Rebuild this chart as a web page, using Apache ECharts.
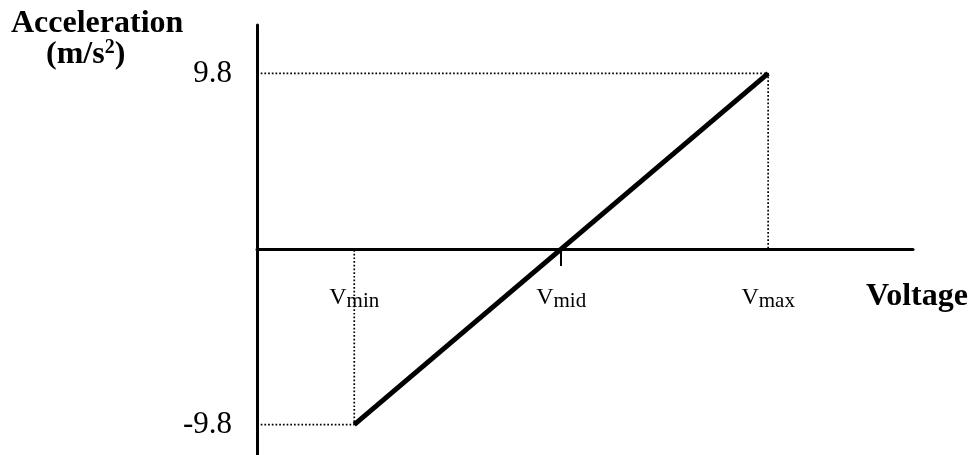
<!DOCTYPE html>
<html>
	<head>
		<meta charset="utf-8">
		<title>Acceleration vs Voltage</title>
		<script src="https://cdn.jsdelivr.net/npm/echarts@6/dist/echarts.min.js"></script>
		<style>
			html, body { margin: 0; padding: 0; background: #fff; }
		</style>
	</head>
	<body>
		<div id="box" style="width: 975px;height: 455px;"></div>
		<script>
			// voltage positions (abstract units): vmin, vmid, vmax
			var voltageTicks = [-1, 0, 1]
			var voltageSubs = ['min', 'mid', 'max']
			// acceleration limits (m/s^2)
			var accelTicks = [9.8, -9.8]
			// the transfer line
			var lineData = [[-1, -9.8], [1, 9.8]]
			// visible axis ranges
			var xRange = [-1.47, 1.70]
			var yRange = [-11.5, 12.5]

			var mCharts = echarts.init(document.querySelector('#box'))

			// dotted guides from the y axis to the line ends, then down/up to the x axis
			var guideTop = [[xRange[0], accelTicks[0]], [voltageTicks[2], accelTicks[0]], [voltageTicks[2], 0]]
			var guideBottom = [[xRange[0], accelTicks[1]], [voltageTicks[0], accelTicks[1]], [voltageTicks[0], 0]]

			// label anchors on the x axis
			var voltagePoints = voltageTicks.map(function (v, i) {
				return { value: [v, 0], sub: voltageSubs[i] }
			})

			var dotted = {
				color: '#000',
				width: 1.7,
				type: [1.7, 2]
			}

			var option = {
				animation: false,
				backgroundColor: '#fff',
				grid: {
					left: 257,
					right: 62,
					top: 25,
					bottom: 0,
					outerBoundsMode: 'none'
				},
				xAxis: {
					type: 'value',
					min: xRange[0],
					max: xRange[1],
					splitLine: { show: false },
					axisLine: {
						onZero: true,
						lineStyle: { color: '#000', width: 3 }
					},
					axisTick: {
						show: true,
						customValues: [0],
						length: 17,
						lineStyle: { color: '#000', width: 2 }
					},
					axisLabel: { show: false }
				},
				yAxis: {
					type: 'value',
					min: yRange[0],
					max: yRange[1],
					splitLine: { show: false },
					axisLine: {
						show: true,
						onZero: false,
						lineStyle: { color: '#000', width: 3 }
					},
					axisTick: { show: false },
					axisLabel: {
						customValues: accelTicks,
						margin: 25,
						fontFamily: 'Liberation Serif',
						fontSize: 31,
						color: '#000'
					}
				},
				graphic: [
					{
						type: 'text',
						left: 11,
						top: 8,
						style: {
							text: 'Acceleration',
							font: 'bold 32px "Liberation Serif"',
							fill: '#000'
						}
					},
					{
						type: 'text',
						left: 46,
						top: 38,
						style: {
							text: '{b|(m/s}{sup|2}{b|)}',
							rich: {
								b: { fontFamily: 'Liberation Serif', fontWeight: 'bold', fontSize: 32, color: '#000' },
								sup: { fontFamily: 'Liberation Serif', fontWeight: 'bold', fontSize: 20, color: '#000', padding: [0, 0, 14, 0] }
							}
						}
					},
					{
						type: 'text',
						left: 866,
						top: 281,
						style: {
							text: 'Voltage',
							font: 'bold 32px "Liberation Serif"',
							fill: '#000'
						}
					}
				],
				series: [
					{
						type: 'line',
						data: guideTop,
						symbol: 'none',
						silent: true,
						lineStyle: dotted
					},
					{
						type: 'line',
						data: guideBottom,
						symbol: 'none',
						silent: true,
						lineStyle: dotted
					},
					{
						type: 'line',
						data: lineData,
						symbol: 'none',
						lineStyle: { color: '#000', width: 5 }
					},
					{
						type: 'scatter',
						data: voltagePoints,
						symbolSize: 0,
						silent: true,
						z: 5,
						itemStyle: { opacity: 1, color: '#000' },
						label: {
							show: true,
							position: 'bottom',
							distance: 34,
							color: '#000',
							opacity: 1,
							formatter: function (p) {
								return '{v|V}{s|' + p.data.sub + '}'
							},
							rich: {
								v: { fontFamily: 'Liberation Serif', fontSize: 24, color: '#000' },
								s: { fontFamily: 'Liberation Serif', fontSize: 21, color: '#000', padding: [8, 0, 0, 0] }
							}
						}
					}
				]
			}
			mCharts.setOption(option)
		</script>
	</body>
</html>
